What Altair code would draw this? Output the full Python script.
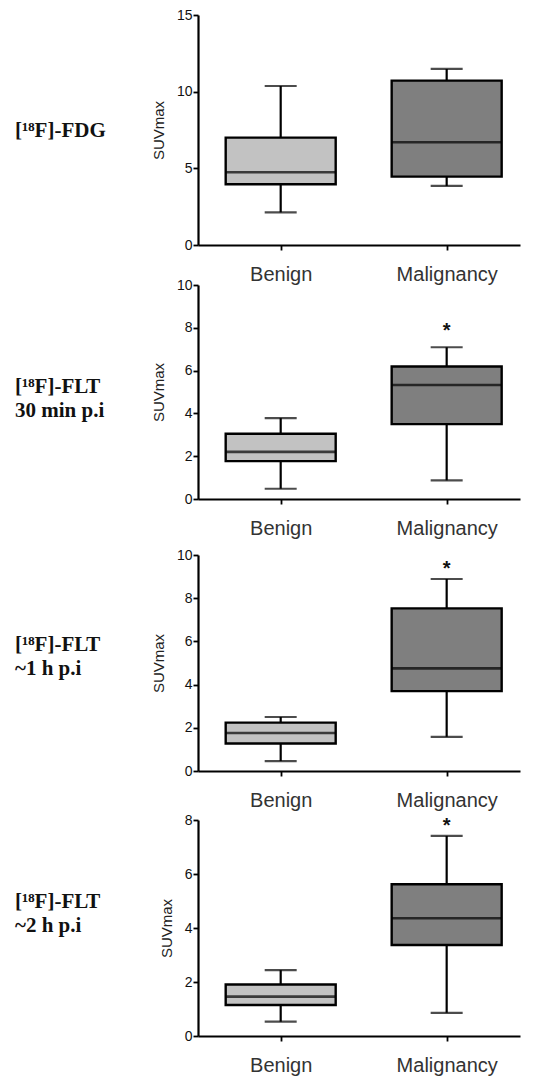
import altair as alt
import pandas as pd

# ---------------- data ----------------
groups = ["Benign", "Malignancy"]
panel_labels = [
    ["[¹⁸F]-FDG"],
    ["[¹⁸F]-FLT", "30 min p.i"],
    ["[¹⁸F]-FLT", "~1 h p.i"],
    ["[¹⁸F]-FLT", "~2 h p.i"],
]
mins = [[2.13, 3.85], [0.48, 0.87], [0.46, 1.58], [0.53, 0.86]]
q1s = [[3.96, 4.46], [1.77, 3.50], [1.27, 3.70], [1.15, 3.37]]
medians = [[4.74, 6.70], [2.20, 5.33], [1.76, 4.75], [1.46, 4.36]]
q3s = [[7.00, 10.72], [3.05, 6.19], [2.24, 7.53], [1.91, 5.62]]
maxs = [[10.37, 11.48], [3.78, 7.09], [2.50, 8.89], [2.44, 7.41]]
y_max = [15, 10, 10, 8]
y_ticks = [[0, 5, 10, 15], [0, 2, 4, 6, 8, 10], [0, 2, 4, 6, 8, 10], [0, 2, 4, 6, 8]]
star_values = [None, 8.1, 9.6, 7.97]
fill_colors = ["#c2c2c2", "#7f7f7f"]

# ---------------- layout (pixels, not data) ----------------
W, H = 322, 1021
y_ranges = [[230, 0], [484, 270], [756, 540], [1021, 805]]
label_y = [116, 372, 630, 887]

panels = []
for i in range(4):
    df = pd.DataFrame({
        "group": groups,
        "lo": mins[i],
        "q1": q1s[i],
        "med": medians[i],
        "q3": q3s[i],
        "hi": maxs[i],
    })
    base = alt.Chart(df)
    xenc = alt.X(
        "group:N",
        sort=groups,
        scale=alt.Scale(type="point", domain=groups, padding=0.47, align=0.53),
        axis=alt.Axis(
            orient="bottom", offset=y_ranges[i][0] - H, title=None, labelAngle=0,
            labelFontSize=20, labelFont="Liberation Sans", labelColor="#333",
            labelPadding=14, tickSize=5, tickWidth=1.8, tickColor="black",
            domainColor="black", domainWidth=2.2, grid=False,
        ),
    )
    yscale = alt.Scale(domain=[0, y_max[i]], range=y_ranges[i], nice=False, zero=True)
    yaxis = alt.Axis(
        orient="left", values=y_ticks[i], title="SUVmax", titleFontSize=15,
        titleFont="Liberation Sans", titleFontWeight="normal", titleColor="#222",
        titlePadding=10, labelFontSize=14, labelFont="Liberation Sans",
        labelColor="#111", labelPadding=1, tickSize=5, tickWidth=1.8,
        tickColor="black", domainColor="black", domainWidth=2.2, grid=False,
    )

    whisker = base.mark_rule(color="black", strokeWidth=2.2).encode(
        x=xenc, y=alt.Y("lo:Q", scale=yscale, axis=yaxis), y2="hi:Q"
    )
    box = base.mark_bar(size=110, stroke="black", strokeWidth=2.4).encode(
        x=xenc, y=alt.Y("q1:Q", scale=yscale, axis=yaxis), y2="q3:Q",
        color=alt.Color("group:N", scale=alt.Scale(domain=groups, range=fill_colors), legend=None),
    )
    cap_lo = base.mark_tick(size=32, thickness=2.2, color="black", orient="horizontal").encode(
        x=xenc, y=alt.Y("lo:Q", scale=yscale, axis=yaxis)
    )
    cap_hi = base.mark_tick(size=32, thickness=2.2, color="black", orient="horizontal").encode(
        x=xenc, y=alt.Y("hi:Q", scale=yscale, axis=yaxis)
    )
    median = base.mark_tick(size=110, thickness=2.6, color="black", orient="horizontal").encode(
        x=xenc, y=alt.Y("med:Q", scale=yscale, axis=yaxis)
    )
    lines = panel_labels[i]
    label = alt.Chart(pd.DataFrame({"k": [0]})).mark_text(
        text=lines if len(lines) > 1 else lines[0],
        font="Liberation Serif", fontWeight="bold", fontSize=21, align="left",
        baseline="middle", lineHeight=24, color="#111",
    ).encode(x=alt.value(-183), y=alt.value(label_y[i]))

    layers = [whisker, box, cap_lo, cap_hi, median, label]
    if star_values[i] is not None:
        sdf = pd.DataFrame({"group": [groups[1]], "star": [star_values[i]]})
        star = alt.Chart(sdf).mark_text(
            text="*", font="Liberation Sans", fontWeight="bold", fontSize=20,
            dy=5, color="#111",
        ).encode(x=xenc, y=alt.Y("star:Q", scale=yscale, axis=yaxis))
        layers.append(star)
    panels.append(alt.layer(*layers))

chart = alt.layer(*panels).resolve_scale(x="independent", y="independent").properties(
    width=W, height=H,
    padding={"top": 8, "left": 15, "right": 12, "bottom": 3},
    background="white",
).configure_view(stroke=None)

chart.save("out.html", embed_options={"renderer": "svg", "actions": False})
